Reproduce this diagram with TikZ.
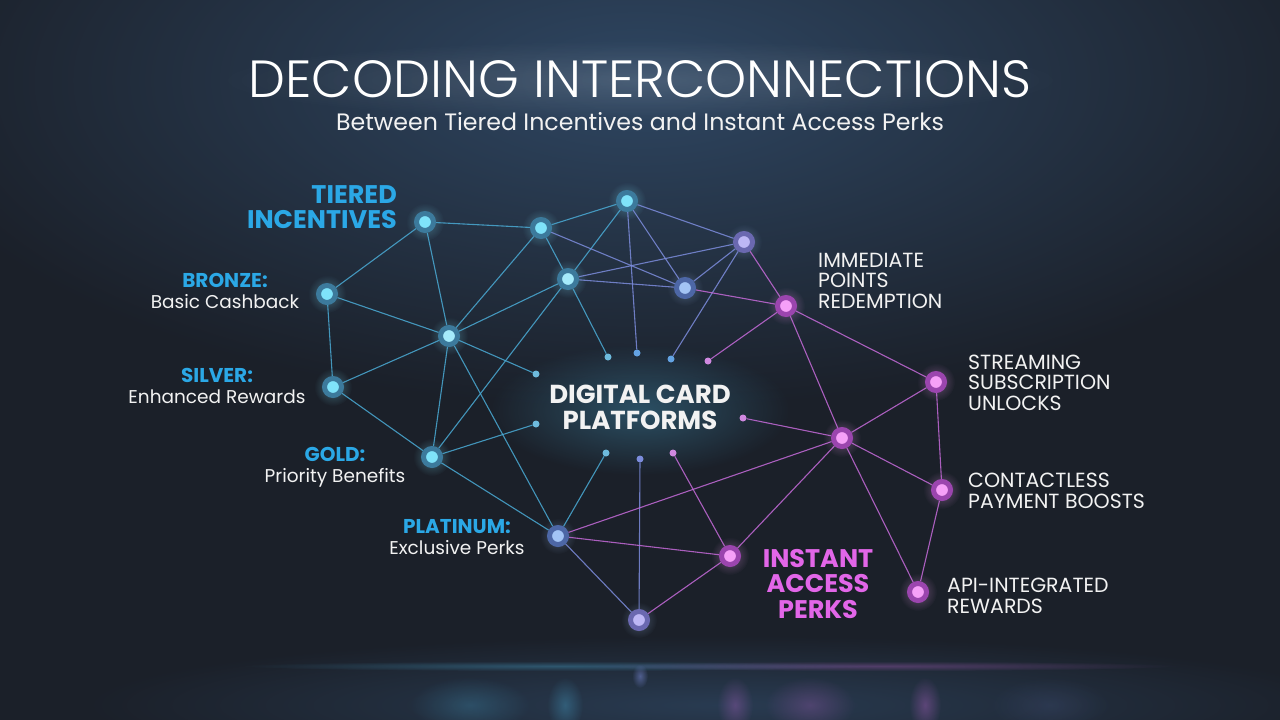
\documentclass[tikz,border=0pt]{standalone}
\usepackage{fontspec}
\setmainfont{Poppins}
\newfontfamily\titlefont{Poppins}[UprightFont=* Light]
\usetikzlibrary{fadings,backgrounds}

\definecolor{bgdark}{HTML}{1B2029}
\definecolor{bgtop}{HTML}{2F4763}
\definecolor{tiercyan}{HTML}{2BA8E6}
\definecolor{perkpink}{HTML}{E266E8}
\definecolor{textwhite}{HTML}{F2F2F2}
\definecolor{edgecyan}{HTML}{4AAAD4}
\definecolor{edgeblue}{HTML}{7C8CDC}
\definecolor{edgepink}{HTML}{C46AD8}
\definecolor{ringcyan}{HTML}{3C7A9C}
\definecolor{corecyan}{HTML}{7FE3FA}
\definecolor{ringblue}{HTML}{4D67A6}
\definecolor{coreblue}{HTML}{A3C4F5}
\definecolor{ringlav}{HTML}{6A68B0}
\definecolor{corelav}{HTML}{BDB7F5}
\definecolor{ringpink}{HTML}{9B45AE}
\definecolor{corepink}{HTML}{F6A0F8}

\tikzfading[name=glowfade, inner color=transparent!0, outer color=transparent!100]

\begin{document}
\begin{tikzpicture}[x=1pt, y=-1pt,
    hub/.style 2 args={circle, inner sep=0pt, minimum size=17pt, line width=5pt, draw=#1, fill=#2},
    cyanhub/.style={hub={ringcyan}{corecyan}},
    bluehub/.style={hub={ringblue}{coreblue}},
    lavhub/.style={hub={ringlav}{corelav}},
    pinkhub/.style={hub={ringpink}{corepink}},
    tip/.style={circle, inner sep=0pt, minimum size=7pt, fill=#1},
    link/.style={line width=1.1pt, draw=#1, draw opacity=.85},
    glow/.style={fill=#1, path fading=glowfade},
    tierlabel/.style={text=textwhite, inner sep=0pt, align=center, anchor=base, font=\fontsize{18.5}{21}\selectfont},
    perklabel/.style={text=textwhite, inner sep=0pt, align=left, anchor=base west, font=\fontsize{20.5}{20.5}\selectfont}]
\useasboundingbox (0,0) rectangle (1280,720);

% title
\node[text=white, inner sep=0pt, anchor=base, font=\titlefont\fontsize{52.3}{54}\selectfont] (title) at (640,97) {DECODING INTERCONNECTIONS};
\node[text=textwhite, inner sep=0pt, anchor=base, font=\fontsize{23.7}{24}\selectfont] (subtitle) at (640,130) {Between Tiered Incentives and Instant Access Perks};

% tiered side
\node[cyanhub] (t1) at (425,222) {};
\node[cyanhub] (t2) at (541,228) {};
\node[cyanhub] (t3) at (627,201) {};
\node[cyanhub, fill=corecyan!70!white] (t4) at (568,279) {};
\node[cyanhub] (br) at (327,294) {};
\node[cyanhub, fill=corecyan!70!white] (c) at (449,336) {};
\node[cyanhub] (si) at (333,387) {};
\node[cyanhub] (go) at (432,457) {};
\node[bluehub] (pl) at (558,536) {};
\node[bluehub] (p1) at (685,288) {};
\node[lavhub] (p2) at (744,242) {};
\node[lavhub] (bot) at (639,620) {};

% instant access side
\node[pinkhub] (im) at (786,306) {};
\node[pinkhub] (hub) at (842,438) {};
\node[pinkhub] (st) at (936,382) {};
\node[pinkhub] (co) at (942,490) {};
\node[pinkhub] (api) at (918,592) {};
\node[pinkhub] (ia) at (730,556) {};

% dots round the centre
\node[tip=edgecyan!80!white] (d1) at (536,374) {};
\node[tip=edgecyan!80!white] (d2) at (608,357) {};
\node[tip=edgeblue!80!cyan] (d3) at (637,353) {};
\node[tip=edgeblue!80!cyan] (d4) at (671,359) {};
\node[tip=edgepink!80!white] (d5) at (708,361) {};
\node[tip=edgepink!80!white] (d6) at (743,418) {};
\node[tip=edgecyan!80!white] (d7) at (536,424) {};
\node[tip=edgecyan!80!white] (d8) at (606,453) {};
\node[tip=edgeblue] (d9) at (640,459) {};
\node[tip=edgepink!80!white] (d10) at (673,453) {};

\begin{scope}[on background layer]
  \clip (0,0) rectangle (1280,720);
  % background
  \fill[bgdark] (0,0) rectangle (1280,720);
  \fill[glow=bgtop] (640,80) ellipse (760 and 330);
  \fill[glow=bgtop, fill opacity=.7] (720,705) ellipse (640 and 70);
  \fill[glow=white, fill opacity=.13] (640,80) ellipse (430 and 40);
  \fill[glow=edgecyan, fill opacity=.35] (560,666) ellipse (320 and 5);
  \fill[glow=edgepink, fill opacity=.30] (880,666) ellipse (300 and 5);
  \foreach \x/\rx/\c/\o in {470/60/edgecyan/.25, 565/18/edgecyan/.35, 735/18/edgepink/.3,
      810/45/edgepink/.25, 925/16/edgepink/.35, 1050/60/edgeblue/.12}
    \fill[glow=\c, fill opacity=\o] (\x,705) ellipse [x radius=\rx, y radius=28];
  \fill[glow=edgeblue, fill opacity=.5] (640,676) ellipse (8 and 12);
  \fill[glow=edgecyan, fill opacity=.35] (640,410) ellipse (150 and 65);
  % node glows and links
  \foreach \n in {t1,t2,t3,t4,br,c,si,go}
    \fill[glow=corecyan, fill opacity=.35] (\n) circle (19);
  \foreach \n in {pl,p1,p2,bot}
    \fill[glow=coreblue, fill opacity=.3] (\n) circle (18);
  \foreach \n in {im,hub,st,co,api,ia}
    \fill[glow=corepink, fill opacity=.35] (\n) circle (19);
  \foreach \a/\b in {t1/t2, t2/t3, t2/t4, t3/t4, t1/br, t1/c, br/c, br/si, si/c, si/go,
      c/go, c/d1, c/pl, t2/c, t4/c, t4/go, t4/d2, go/d7, go/pl, d8/pl}
    \draw[link=edgecyan] (\a) -- (\b);
  \foreach \a/\b in {t3/d3, t2/p1, t3/p1, t4/p1, t4/p2, t3/p2, p1/p2, p2/d4, pl/bot, d9/bot}
    \draw[link=edgeblue] (\a) -- (\b);
  \foreach \a/\b in {p1/im, p2/im, im/d5, im/st, im/hub, hub/st, hub/d6, hub/co, hub/api,
      hub/ia, st/co, co/api, bot/ia, pl/ia, pl/hub, d10/ia}
    \draw[link=edgepink] (\a) -- (\b);
\end{scope}

% centre
\node[text=textwhite, inner sep=0pt, align=center, anchor=base, font=\bfseries\fontsize{26}{26}\selectfont] (platform) at (640,429) {DIGITAL CARD\\PLATFORMS};

% labels
\node[text=tiercyan, inner sep=0pt, align=right, anchor=base east, font=\bfseries\fontsize{25.5}{25}\selectfont] (tierhead) at (397,228) {TIERED\\INCENTIVES};
\node[tierlabel] (bronze) at (225,308) {{\bfseries\fontsize{20}{21}\selectfont\color{tiercyan}BRONZE:}\\Basic Cashback};
\node[tierlabel] (silver) at (217,403) {{\bfseries\fontsize{20}{21}\selectfont\color{tiercyan}SILVER:}\\Enhanced Rewards};
\node[tierlabel] (gold) at (335,482) {{\bfseries\fontsize{20}{21}\selectfont\color{tiercyan}GOLD:}\\Priority Benefits};
\node[tierlabel] (platinum) at (457,554) {{\bfseries\fontsize{20}{21}\selectfont\color{tiercyan}PLATINUM:}\\Exclusive Perks};

\node[text=perkpink, inner sep=0pt, align=center, anchor=base, font=\bfseries\fontsize{25.5}{25.5}\selectfont] (perkhead) at (818,618) {INSTANT\\ACCESS\\PERKS};
\node[perklabel] (immediate) at (818,308) {IMMEDIATE\\POINTS\\REDEMPTION};
\node[perklabel] (streaming) at (968,410) {STREAMING\\SUBSCRIPTION\\UNLOCKS};
\node[perklabel] (contactless) at (968,508) {CONTACTLESS\\PAYMENT BOOSTS};
\node[perklabel] (apiint) at (947,613) {API-INTEGRATED\\REWARDS};
\end{tikzpicture}
\end{document}
